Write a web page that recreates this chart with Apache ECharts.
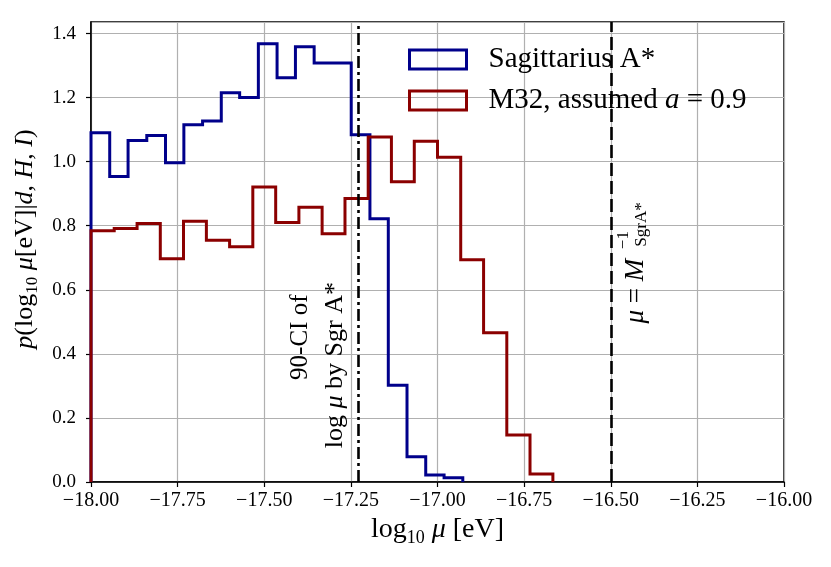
<!DOCTYPE html>
<html>
<head>
<meta charset="utf-8">
<script src="https://cdn.jsdelivr.net/npm/echarts@6/dist/echarts.min.js"></script>
<style>
  html, body { margin: 0; padding: 0; background: #fff; }
  #chart { width: 831px; height: 567px; }
</style>
</head>
<body>
<div id="chart"></div>
<script>
// histogram bins
var blueName = 'Sagittarius A*';
var redName = 'M32, assumed a = 0.9';

var blueEdges = [-18, -17.946, -17.893, -17.839, -17.785, -17.732, -17.678, -17.624, -17.571, -17.517,
                 -17.463, -17.410, -17.356, -17.303, -17.249, -17.195, -17.142, -17.088, -17.034, -16.981, -16.927];
var blueValues = [1.090, 0.954, 1.066, 1.082, 0.997, 1.115, 1.127, 1.215, 1.200, 1.368,
                  1.262, 1.359, 1.308, 1.308, 1.084, 0.822, 0.302, 0.079, 0.022, 0.013];

var redEdges = [-18, -17.933, -17.867, -17.8, -17.733, -17.667, -17.6, -17.533, -17.467, -17.4,
                -17.333, -17.267, -17.2, -17.133, -17.067, -17, -16.933, -16.867, -16.8, -16.733, -16.667];
var redValues = [0.784, 0.791, 0.807, 0.697, 0.814, 0.755, 0.734, 0.921, 0.810, 0.858,
                 0.775, 0.885, 1.077, 0.937, 1.064, 1.014, 0.694, 0.466, 0.147, 0.025];

// vertical reference lines
var ciLine = -17.233;
var massLine = -16.5;

var xTicks = { min: -18, max: -16, step: 0.25 };
var yTicks = { min: 0, max: 1.436, step: 0.2 };

var FONT = '"Liberation Serif", "DejaVu Serif", serif';
var BLUE = '#00008b';
var RED = '#8b0000';

// step outline of a histogram: up at the first edge, down at the last
function stepPoints(edges, values) {
    var pts = [[edges[0], 0]];
    for (var i = 0; i < values.length; i++) {
        pts.push([edges[i], values[i]]);
    }
    pts.push([edges[edges.length - 1], values[values.length - 1]]);
    pts.push([edges[edges.length - 1], 0]);
    return pts;
}

function richFor(size, sub) {
    return {
        t: { fontFamily: FONT, fontSize: size, color: '#000', lineHeight: size + 6 },
        i: { fontFamily: FONT, fontSize: size, color: '#000', fontStyle: 'italic', lineHeight: size + 6 },
        s: { fontFamily: FONT, fontSize: sub, color: '#000', lineHeight: sub, verticalAlign: 'bottom' }
    };
}

var chart = echarts.init(document.getElementById('chart'));

var option = {
    animation: false,
    backgroundColor: '#fff',
    grid: {
        left: 91, right: 47, top: 22, bottom: 85,
        show: true, borderColor: '#000', borderWidth: 1.5
    },
    legend: {
        orient: 'vertical',
        left: 403, top: 39,
        icon: 'rect',
        itemWidth: 57, itemHeight: 19, itemGap: 10,
        textStyle: {
            fontFamily: FONT, fontSize: 29, color: '#000', lineHeight: 31, padding: [0, 0, 0, 17],
            rich: {
                t: { fontFamily: FONT, fontSize: 29, color: '#000' },
                i: { fontFamily: FONT, fontSize: 29, color: '#000', fontStyle: 'italic' }
            }
        },
        formatter: function (name) {
            if (name === redName) {
                return '{t|M32, assumed }{i|a}{t| = 0.9}';
            }
            return '{t|' + name + '}';
        },
        data: [
            { name: blueName, itemStyle: { color: 'rgba(0,0,0,0)', borderColor: BLUE, borderWidth: 3 } },
            { name: redName, itemStyle: { color: 'rgba(0,0,0,0)', borderColor: RED, borderWidth: 3 } }
        ]
    },
    xAxis: {
        type: 'value',
        min: xTicks.min, max: xTicks.max, interval: xTicks.step,
        name: '{t|log}{s|10}{i| μ}{t| [eV]}',
        nameLocation: 'middle', nameGap: 30,
        nameTextStyle: { rich: richFor(28, 18) },
        axisLine: { show: true, onZero: false, lineStyle: { color: '#000', width: 1.5 } },
        axisTick: { show: true, length: 5, lineStyle: { color: '#000', width: 1.2 } },
        axisLabel: {
            fontFamily: FONT, fontSize: 20, color: '#000', margin: 9,
            formatter: function (v) { return v.toFixed(2).replace('-', '\u2212'); }
        },
        splitLine: { show: true, lineStyle: { color: '#b0b0b0', width: 1.2 } }
    },
    yAxis: {
        type: 'value',
        min: yTicks.min, max: yTicks.max, interval: yTicks.step,
        name: '{i|p}{t|(log}{s|10}{i| μ}{t|[eV]|}{i|d}{t|, }{i|H}{t|, }{i|I}{t|)}',
        nameLocation: 'middle', nameGap: 50, nameRotate: 90,
        nameTextStyle: { rich: richFor(26, 17), padding: [0, 0, 0, 26] },
        axisLine: { show: true, lineStyle: { color: '#000', width: 1.5 } },
        axisTick: { show: true, length: 5, lineStyle: { color: '#000', width: 1.2 } },
        axisLabel: {
            fontFamily: FONT, fontSize: 19, color: '#000', margin: 15,
            showMaxLabel: false,
            formatter: function (v) {
                var k = v / yTicks.step;
                if (Math.abs(k - Math.round(k)) > 1e-6) return '';
                return v.toFixed(1);
            }
        },
        splitLine: { show: true, lineStyle: { color: '#b0b0b0', width: 1.2 } }
    },
    series: [
        {
            name: blueName,
            type: 'line',
            step: 'end',
            symbol: 'none',
            data: stepPoints(blueEdges, blueValues),
            itemStyle: { color: BLUE },
            lineStyle: { color: BLUE, width: 3, join: 'miter', cap: 'butt' },
            z: 3
        },
        {
            name: redName,
            type: 'line',
            step: 'end',
            symbol: 'none',
            data: stepPoints(redEdges, redValues),
            itemStyle: { color: RED },
            lineStyle: { color: RED, width: 3, join: 'miter', cap: 'butt' },
            z: 4,
            markLine: {
                silent: true,
                symbol: ['none', 'none'],
                label: { show: false },
                data: [
                    { xAxis: ciLine, lineStyle: { color: '#000', width: 2.6, type: [12, 4, 3, 4] } },
                    { xAxis: massLine, lineStyle: { color: '#000', width: 2.6, type: [13, 5] } }
                ]
            }
        }
    ]
};

chart.setOption(option, true);

// rotated annotations, anchored in data coordinates
var notes = [
    { at: [-17.397, 0.452], size: 25, text: '90-CI of' },
    { at: [-17.296, 0.365], size: 26, text: '{t|log }{i|μ}{t| by Sgr A*}' },
    { at: [-16.426, 0.596], size: 27, text: '{i|μ}{t| = }{i|M}' },
    { at: [-16.462, 0.755], size: 17, text: '\u22121' },
    { at: [-16.411, 0.804], size: 17, text: 'SgrA*' }
];

var graphics = notes.map(function (n) {
    var p = chart.convertToPixel({ gridIndex: 0 }, n.at);
    return {
        type: 'text',
        x: p[0], y: p[1],
        rotation: Math.PI / 2,
        z: 10,
        style: {
            text: n.text,
            fontFamily: FONT,
            fontSize: n.size,
            fill: '#000',
            align: 'center',
            verticalAlign: 'middle',
            rich: {
                t: { fontFamily: FONT, fontSize: n.size, fill: '#000' },
                i: { fontFamily: FONT, fontSize: n.size, fill: '#000', fontStyle: 'italic' }
            }
        }
    };
});

chart.setOption({ graphic: graphics });
</script>
</body>
</html>
